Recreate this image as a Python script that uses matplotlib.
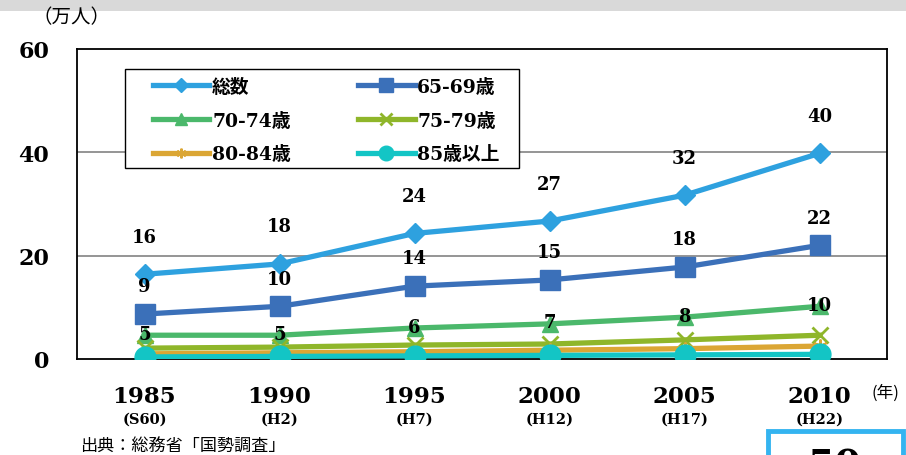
import matplotlib
matplotlib.use("Agg")
import matplotlib.pyplot as plt
from matplotlib.patches import Rectangle
from matplotlib.transforms import blended_transform_factory

plt.rcParams['font.family'] = ['DejaVu Serif', 'Noto Sans CJK JP']

years = ["1985", "1990", "1995", "2000", "2005", "2010"]
eras = ["(S60)", "(H2)", "(H7)", "(H12)", "(H17)", "(H22)"]

total = [16.4, 18.4, 24.3, 26.7, 31.7, 39.8]
age65_69 = [8.7, 10.2, 14.1, 15.3, 17.8, 22.0]
age70_74 = [4.6, 4.6, 6.0, 6.8, 8.1, 10.2]
age75_79 = [2.1, 2.3, 2.7, 2.9, 3.7, 4.6]
age80_84 = [1.0, 1.2, 1.4, 1.7, 2.0, 2.5]
age85_up = [0.4, 0.5, 0.6, 0.7, 0.8, 0.9]

total_labels = ["16", "18", "24", "27", "32", "40"]
age65_labels = ["9", "10", "14", "15", "18", "22"]
age70_labels = ["5", "5", "6", "7", "8", "10"]

series_names = ["総数", "65-69歳", "70-74歳", "75-79歳", "80-84歳", "85歳以上"]
yticks = [0, 20, 40, 60]

fig = plt.figure(figsize=(9.06, 4.56), dpi=100)
fig.patches.append(Rectangle((0, 1 - 12 / 456), 1, 12 / 456, transform=fig.transFigure,
                             facecolor="#d9d9d9", edgecolor="none", zorder=0))
ax = fig.add_axes([77 / 906, 96 / 456, 810 / 906, 310 / 456])

x = list(range(len(years)))
styles = [
    (total, "#2ea1df", dict(marker="D", markersize=10.5)),
    (age65_69, "#3b70b9", dict(marker="s", markersize=14)),
    (age70_74, "#4bb86b", dict(marker="^", markersize=12)),
    (age75_79, "#8fb62a", dict(marker="x", markersize=12, markeredgewidth=2)),
    (age80_84, "#dba634", dict(marker=(6, 2, 0), markersize=10, markeredgewidth=1.5)),
    (age85_up, "#13c5c5", dict(marker="o", markersize=15)),
]
handles = []
for i, ((vals, col, mk), name) in enumerate(zip(styles, series_names)):
    h, = ax.plot(x, vals, color=col, lw=3.8, label=name, zorder=3 + i * 0.1,
                 markerfacecolor=col, markeredgecolor=col, **mk)
    handles.append(h)

lab_kw = dict(ha="center", va="center", fontsize=13, fontweight="bold", color="black", zorder=10)
for xi, v, t in zip(x, total, total_labels):
    ax.annotate(t, (xi, v), xytext=(0, 27), textcoords="offset points", **lab_kw)
for xi, v, t in zip(x, age65_69, age65_labels):
    ax.annotate(t, (xi, v), xytext=(0, 20), textcoords="offset points", **lab_kw)
for xi, v, t in zip(x, age70_74, age70_labels):
    ax.annotate(t, (xi, v), xytext=(0, 1), textcoords="offset points", **lab_kw)

ax.set_xlim(-0.5, len(years) - 0.5)
ax.set_ylim(0, 60)
ax.set_yticks(yticks)
ax.set_yticklabels([str(t) for t in yticks], fontsize=16, fontweight="bold")
ax.tick_params(axis="y", length=0, pad=20)
ax.set_xticks(x)
ax.set_xticklabels([])
ax.tick_params(axis="x", length=0)
for yv in yticks[1:-1]:
    ax.axhline(yv, color="#8c8c8c", lw=1.3, zorder=1)
for s in ax.spines.values():
    s.set_color("black")
    s.set_linewidth(1.3)

tr = blended_transform_factory(ax.transData, fig.transFigure)
for xi, yr, er in zip(x, years, eras):
    ax.text(xi, 1 - 397 / 456, yr, transform=tr, ha="center", va="center",
            fontsize=16.5, fontweight="bold")
    ax.text(xi, 1 - 420 / 456, er, transform=tr, ha="center", va="center",
            fontsize=10.5, fontweight="bold")

fig.text(885 / 906, 1 - 393 / 456, "(年)", ha="center", va="center", fontsize=12,
         family=["Noto Sans CJK JP"])
fig.text(72 / 906, 1 - 18 / 456, "（万人）", ha="center", va="center", fontsize=14,
         family=["Noto Sans CJK JP"])
fig.text(80 / 906, 1 - 447 / 456, "出典：総務省「国勢調査」", ha="left", va="center",
         fontsize=12.3, family=["Noto Sans CJK JP"])

fig.patches.append(Rectangle((768 / 906, -0.05), 135 / 906, 1 - 432 / 456 + 0.05,
                             transform=fig.transFigure, facecolor="white",
                             edgecolor="#34b4f0", lw=3.5, zorder=5))
fig.text(835 / 906, 1 - 449 / 456, "50", ha="center", va="top", fontsize=28,
         fontweight="bold", zorder=6)

# legend frame drawn to match the reference box
ax.add_patch(Rectangle(((125 - 77) / 810, (360 - 169) / 310), (519 - 125) / 810,
                       (169 - 70) / 310, transform=ax.transAxes, facecolor="white",
                       edgecolor="black", lw=1.0, zorder=19))
order = [0, 2, 4, 1, 3, 5]
leg = ax.legend([handles[i] for i in order], [series_names[i] for i in order], ncol=2,
                loc="upper left", bbox_to_anchor=((153 - 77) / 810, (360 - 79) / 310),
                borderaxespad=0, frameon=False, borderpad=0,
                prop=dict(size=13.5, weight="bold"), handlelength=3.0,
                columnspacing=3.6, labelspacing=0.83, handletextpad=0.15)
leg.set_zorder(20)
for lh in leg.legend_handles:
    lh.set_markersize(lh.get_markersize() * 0.7)

fig.savefig("out.png", dpi=100)
